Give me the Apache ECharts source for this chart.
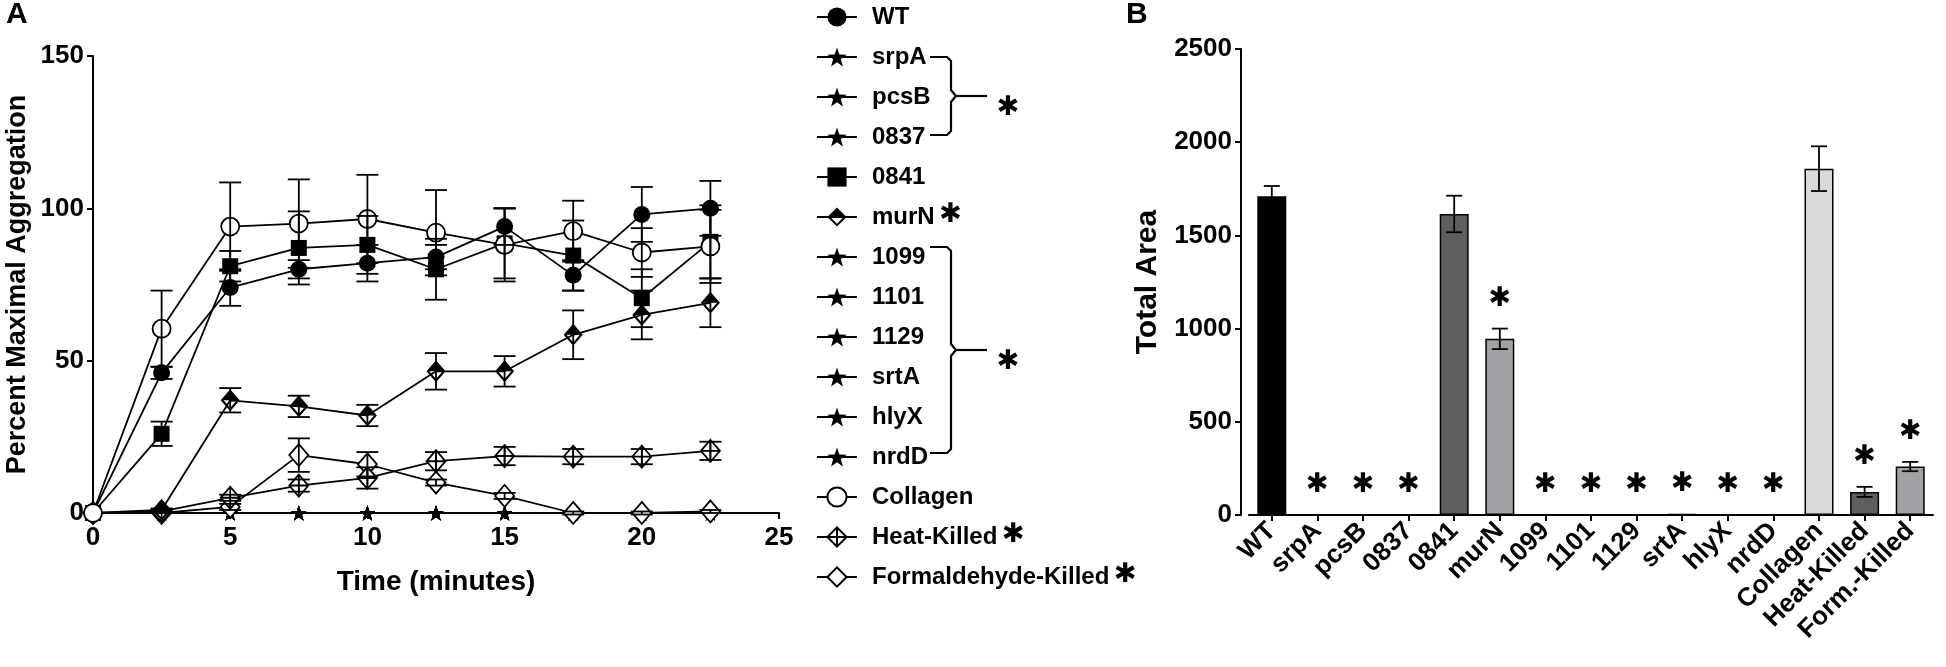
<!DOCTYPE html>
<html><head><meta charset="utf-8">
<script src="https://cdn.jsdelivr.net/npm/echarts@6/dist/echarts.min.js"></script>
<style>html,body{margin:0;padding:0;background:#fff}#c{width:1946px;height:667px}</style>
</head><body><div id="c"></div>
<script>
// ---------- Panel A data ----------
const times = [0, 2.5, 5, 7.5, 10, 12.5, 15, 17.5, 20, 22.5];
const wt = [0, 46, 74, 80, 82, 84, 94, 78, 98, 100];
const wtErr = [0, 2, 6, 3, 6, 4, 6, 5, 9, 9];
const s0841 = [0, 26, 81, 87, 88, 80, 88.5, 84.5, 70.5, 89];
const s0841Err = [0, 4, 5, 12, 9.5, 10, 11.5, 11.5, 9.5, 12];
const collagen = [0, 60.5, 94, 95, 96.5, 92, 88, 92.5, 85.5, 87.5];
const collagenErr = [0, 12.5, 14.5, 14.5, 14.5, 14, 12, 10, 8, 12];
const murN = [0, 1, 37, 35, 32, 46.5, 46.5, 58.5, 65, 69];
const murNErr = [0, 0.5, 4, 3.5, 3.5, 6, 5, 8, 8, 8];
const heatKilled = [0, 0.5, 5, 9, 11.5, 17, 18.7, 18.5, 18.5, 20.4];
const heatKilledErr = [0, 0.5, 1, 2, 3.5, 3, 3, 2.5, 2.5, 3];
const formKilled = [0, 0, 2, 19, 16, 10, 5.6, 0, 0, 0.5];
const formKilledErr = [0, 0, 1, 5.5, 4, 1, 1, 0.5, 0.5, 0.5];
const starStrains = ['srpA', 'pcsB', '0837', '1099', '1101', '1129', 'srtA', 'hlyX', 'nrdD'];
const starStrainValues = [0, 0, 0, 0, 0, 0, 0, 0, 0, 0];
const legendOrder = ['WT', 'srpA', 'pcsB', '0837', '0841', 'murN', '1099', '1101', '1129', 'srtA', 'hlyX', 'nrdD', 'Collagen', 'Heat-Killed', 'Formaldehyde-Killed'];
const legendStarred = ['murN', 'Heat-Killed', 'Formaldehyde-Killed'];

// ---------- Panel B data ----------
const barCategories = ['WT', 'srpA', 'pcsB', '0837', '0841', 'murN', '1099', '1101', '1129', 'srtA', 'hlyX', 'nrdD', 'Collagen', 'Heat-Killed', 'Form.-Killed'];
const barValues = [1710, 0, 0, 0, 1615, 945, 0, 0, 0, 5, 0, 0, 1858, 124, 260];
const barErrors = [55, 0, 0, 0, 98, 55, 0, 0, 0, 0, 0, 0, 120, 27, 25];
const barSignificant = [false, true, true, true, false, true, true, true, true, true, true, true, false, true, true];

// ---------- styles ----------
const barFill = ['#000000', '#ffffff', '#ffffff', '#ffffff', '#5e5e5e', '#a2a2a6', '#ffffff', '#ffffff', '#ffffff', '#a2a2a6', '#ffffff', '#ffffff', '#d9d9d9', '#5e5e5e', '#a2a2a6'];
const FONT = 'Liberation Sans, Arial, sans-serif';
const STAR = 'path://M0,-10 L2.35,-3.24 L9.51,-3.09 L3.8,1.24 L5.88,8.09 L0,4 L-5.88,8.09 L-3.8,1.24 L-9.51,-3.09 L-2.35,-3.24 Z';
const HALF_DIAMOND = 'path://M10,0 L20,10 L0,10 Z M0,10 L10,20 L20,10 L17,10 L10,17 L3,10 Z';
const CROSS_DIAMOND = 'path://M10,0 L20,10 L10,20 L0,10 Z M10,0 L10,20 M0,10 L20,10';
const ASTERISK = '\u2731';

const chart = echarts.init(document.getElementById('c'), null, {renderer: 'canvas'});

function pts(vals) { return times.map((t, i) => [t, vals[i]]); }

function lineSeries(name, vals, symbol, size, fill) {
  return {
    name: name, type: 'line', xAxisIndex: 0, yAxisIndex: 0,
    data: pts(vals), symbol: symbol, symbolSize: size, showAllSymbol: true,
    lineStyle: {color: '#000', width: 1.8},
    itemStyle: {color: fill, borderColor: '#000', borderWidth: fill === '#000' ? 0 : 1.8},
    emphasis: {disabled: true}, z: 3
  };
}

const series = [];
starStrains.forEach(n => series.push(lineSeries(n, starStrainValues, STAR, 15, '#000')));
series.push(lineSeries('Formaldehyde-Killed', formKilled, 'diamond', [19, 22], '#fff'));
series.push(lineSeries('Heat-Killed', heatKilled, CROSS_DIAMOND, [19, 22], '#fff'));
series.push(lineSeries('murN', murN, HALF_DIAMOND, [19, 22], '#000'));
series.push(lineSeries('0841', s0841, 'rect', 16, '#000'));
series.push(lineSeries('WT', wt, 'circle', 17, '#000'));
series.push(lineSeries('Collagen', collagen, 'circle', 18, '#fff'));

// error bars panel A
const errSets = [[wt, wtErr], [s0841, s0841Err], [collagen, collagenErr], [murN, murNErr], [heatKilled, heatKilledErr], [formKilled, formKilledErr]];
const errData = [];
errSets.forEach(([v, e]) => times.forEach((t, i) => { if (e[i] > 0) errData.push([t, v[i] - e[i], v[i] + e[i]]); }));
series.push({
  type: 'custom', xAxisIndex: 0, yAxisIndex: 0, data: errData, z: 4, silent: true,
  renderItem: function (params, api) {
    const lo = api.coord([api.value(0), api.value(1)]);
    const hi = api.coord([api.value(0), api.value(2)]);
    const w = 11, st = {stroke: '#000', lineWidth: 1.8};
    return {type: 'group', children: [
      {type: 'line', shape: {x1: lo[0], y1: lo[1], x2: hi[0], y2: hi[1]}, style: st},
      {type: 'line', shape: {x1: hi[0] - w, y1: hi[1], x2: hi[0] + w, y2: hi[1]}, style: st},
      {type: 'line', shape: {x1: lo[0] - w, y1: lo[1], x2: lo[0] + w, y2: lo[1]}, style: st}
    ]};
  }
});

// Panel B bars
series.push({
  type: 'bar', xAxisIndex: 1, yAxisIndex: 1, barWidth: 29,
  data: barValues.map((v, i) => ({value: v, itemStyle: {color: barFill[i], borderColor: '#000', borderWidth: 1.5}})),
  emphasis: {disabled: true}, z: 2
});
series.push({
  type: 'custom', xAxisIndex: 1, yAxisIndex: 1, z: 4, silent: true,
  data: barValues.map((v, i) => [i, v, barErrors[i], barSignificant[i] ? 1 : 0]),
  renderItem: function (params, api) {
    const i = api.value(0), v = api.value(1), e = api.value(2), sig = api.value(3);
    const ch = [];
    const st = {stroke: '#000', lineWidth: 1.8};
    const top = api.coord([i, v + e]);
    if (e > 0) {
      const lo = api.coord([i, v - e]);
      const w = 8;
      ch.push({type: 'line', shape: {x1: lo[0], y1: lo[1], x2: top[0], y2: top[1]}, style: st});
      ch.push({type: 'line', shape: {x1: top[0] - w, y1: top[1], x2: top[0] + w, y2: top[1]}, style: st});
      ch.push({type: 'line', shape: {x1: lo[0] - w, y1: lo[1], x2: lo[0] + w, y2: lo[1]}, style: st});
    }
    if (sig) {
      ch.push({type: 'text', x: top[0], y: top[1] - 30, style: {text: ASTERISK, fill: '#000', font: 'bold 27px DejaVu Sans', textAlign: 'center', textVerticalAlign: 'middle'}});
    }
    return {type: 'group', children: ch};
  }
});

const axisFont = {fontFamily: FONT, fontWeight: 'bold', fontSize: 26, color: '#000'};
const axLine = {show: true, lineStyle: {color: '#000', width: 2}};
const axTick = {show: true, length: 6, lineStyle: {color: '#000', width: 2}};

// legend layout
const LEG_LEFT = 811, LEG_TOP = 1, LEG_ROW = 40, LEG_TEXT_X = 866, LEG_FONT = 24;
const mctx = document.createElement('canvas').getContext('2d');
mctx.font = 'bold ' + LEG_FONT + 'px Liberation Sans';
function rowY(name) { return LEG_TOP + 12 + legendOrder.indexOf(name) * LEG_ROW; }

const gStyle = {stroke: '#000', lineWidth: 2.2, fill: null};
function brace(x0, yTop, yBot) {
  const yMid = (yTop + yBot) / 2;
  return [
    {type: 'polyline', shape: {points: [[x0, yTop], [x0 + 17, yTop], [x0 + 21, yTop + 4], [x0 + 21, yMid - 6], [x0 + 26, yMid], [x0 + 21, yMid + 6], [x0 + 21, yBot - 4], [x0 + 17, yBot], [x0, yBot]]}, style: gStyle},
    {type: 'line', shape: {x1: x0 + 26, y1: yMid, x2: x0 + 57, y2: yMid}, style: gStyle},
    ast(x0 + 78, yMid + 12)
  ];
}
function ast(x, y) {
  return {type: 'text', x: x, y: y, style: {text: ASTERISK, fill: '#000', font: 'bold 27px DejaVu Sans', textAlign: 'center', textVerticalAlign: 'middle'}};
}
const graphics = [
  {type: 'text', left: 6, top: 0, style: {text: 'A', font: 'bold 30px Liberation Sans', fill: '#000'}},
  {type: 'text', left: 1126, top: 0, style: {text: 'B', font: 'bold 30px Liberation Sans', fill: '#000'}}
].concat(
  brace(930, rowY('srpA') + 4, rowY('0837') + 2),
  brace(930, rowY('1099') - 6, rowY('nrdD'))
);
legendStarred.forEach(n => graphics.push(ast(LEG_TEXT_X + mctx.measureText(n).width + 22, rowY(n) + 2)));

const option = {
  animation: false,
  backgroundColor: '#fff',
  grid: [
    {left: 93, top: 56, width: 686, height: 457},
    {left: 1249, top: 49, width: 684, height: 466}
  ],
  xAxis: [
    {type: 'value', gridIndex: 0, min: 0, max: 25, interval: 5,
     name: 'Time (minutes)', nameLocation: 'middle', nameGap: 55,
     nameTextStyle: {fontFamily: FONT, fontWeight: 'bold', fontSize: 28, color: '#000'},
     axisLine: axLine, axisTick: axTick, splitLine: {show: false},
     axisLabel: Object.assign({margin: 12}, axisFont)},
    {type: 'category', gridIndex: 1, data: barCategories,
     axisLine: axLine, axisTick: Object.assign({alignWithLabel: true}, axTick), splitLine: {show: false},
     axisLabel: Object.assign({rotate: 45, margin: 12, interval: 0}, axisFont)}
  ],
  yAxis: [
    {type: 'value', gridIndex: 0, min: 0, max: 150, interval: 50,
     name: 'Percent Maximal Aggregation', nameLocation: 'middle', nameGap: 62,
     nameTextStyle: {fontFamily: FONT, fontWeight: 'bold', fontSize: 27, color: '#000'},
     axisLine: axLine, axisTick: axTick, splitLine: {show: false},
     axisLabel: Object.assign({margin: 9}, axisFont)},
    {type: 'value', gridIndex: 1, min: 0, max: 2500, interval: 500, offset: 8,
     name: 'Total Area', nameLocation: 'middle', nameGap: 78,
     nameTextStyle: {fontFamily: FONT, fontWeight: 'bold', fontSize: 30, color: '#000'},
     axisLine: axLine, axisTick: axTick, splitLine: {show: false},
     axisLabel: Object.assign({margin: 9, formatter: v => String(v)}, axisFont)}
  ],
  legend: {
    orient: 'vertical', left: LEG_LEFT, top: LEG_TOP - 1, itemWidth: 40, itemHeight: 24, itemGap: 16,
    selectedMode: false, data: legendOrder,
    textStyle: {fontFamily: FONT, fontWeight: 'bold', fontSize: LEG_FONT, lineHeight: 24, color: '#000', padding: [0, 0, 0, 10]}
  },
  graphic: graphics,
  series: series
};
chart.setOption(option);
</script>
</body></html>
